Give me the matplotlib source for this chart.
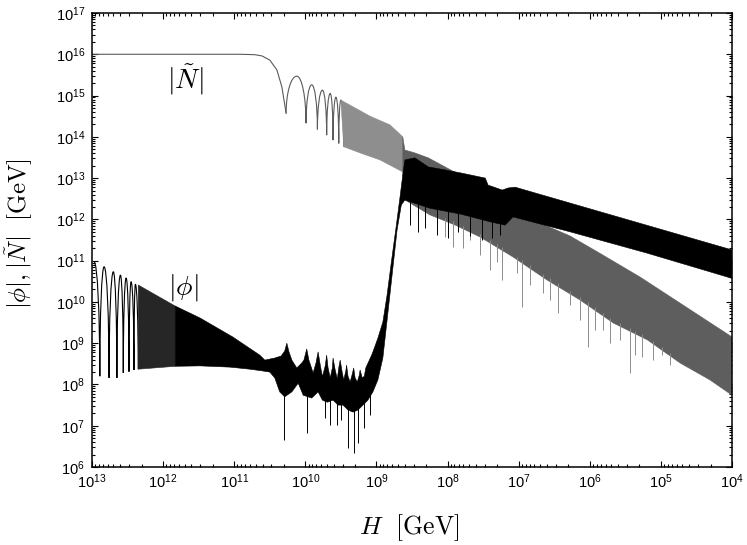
import numpy as np
import matplotlib
matplotlib.use("Agg")
import matplotlib.pyplot as plt
from matplotlib.path import Path
from matplotlib.patches import PathPatch
from matplotlib.ticker import LogLocator, FuncFormatter, NullFormatter

plt.rcParams['font.family'] = ['Liberation Sans', 'DejaVu Sans']
plt.rcParams['mathtext.fontset'] = 'cm'

# ---------------- data (log10 of H and of the field) ----------------
# |N~| : plateau and roll-off
n_roll_logH = [13.0, 10.92, 10.71, 10.61, 10.50, 10.40, 10.33, 10.30, 10.27]
n_roll_logY = [16.0, 16.0, 15.99, 15.96, 15.86, 15.62, 15.21, 14.89, 14.57]
# resolved oscillations of |N~|
n_dip_logH = [10.27, 9.99, 9.83, 9.70, 9.61, 9.53, 9.46]
n_dip_logY = [14.57, 14.33, 14.18, 14.04, 13.92, 13.84, 13.76]
n_peak_logH = [10.12, 9.91, 9.76, 9.65, 9.57, 9.50]
n_peak_logY = [15.47, 15.26, 15.13, 15.05, 14.96, 14.89]
# dense oscillations of |N~| (envelopes)
n_dense_up_logH = [9.50, 9.09, 8.81, 8.63]
n_dense_up_logY = [14.89, 14.50, 14.29, 14.00]
n_dense_lo_logH = [9.46, 9.23, 8.95, 8.63]
n_dense_lo_logY = [13.76, 13.61, 13.44, 13.15]
n_band_up_logH = [8.63, 8.60, 8.46, 8.27, 7.82, 7.33, 7.19, 6.74, 6.28, 5.86, 5.29, 4.0]
n_band_up_logY = [14.00, 13.68, 13.61, 13.49, 13.07, 12.59, 12.15, 11.94, 11.60, 11.18, 10.60, 9.15]
n_band_lo_logH = [8.63, 8.60, 8.25, 7.89, 7.54, 7.08, 6.60, 6.14, 5.67, 5.19, 4.73, 4.31, 4.0]
n_band_lo_logY = [13.15, 12.47, 12.11, 11.86, 11.57, 11.09, 10.53, 10.05, 9.49, 9.08, 8.52, 8.11, 7.74]
# deep minima of |N~| sticking out of the band
n_spike_logH = [8.04, 7.92, 7.78, 7.68, 7.54, 7.40, 7.30, 7.23, 7.02, 6.95, 6.84, 6.66, 6.56, 6.45,
                6.28, 6.14, 6.02, 5.93, 5.81, 5.71, 5.57, 5.43, 5.36, 5.26, 5.11, 4.98, 4.87]
n_spike_logY = [11.57, 11.33, 11.31, 11.50, 11.14, 10.77, 10.97, 10.53, 10.70, 9.88, 10.41, 10.22, 10.05, 9.73,
                9.92, 9.56, 8.91, 9.32, 9.32, 9.00, 9.08, 8.28, 8.71, 8.66, 8.59, 8.71, 8.47]

# |phi| : first resolved oscillations
phi_start_logH = [12.97]
phi_start_logY = [10.97]
phi_dip_logH = [12.89, 12.76, 12.65, 12.56, 12.48, 12.41, 12.35]
phi_dip_logY = [8.20, 8.16, 8.16, 8.28, 8.31, 8.35, 8.37]
phi_peak_logH = [12.83, 12.70, 12.60, 12.52, 12.45, 12.39]
phi_peak_logY = [10.85, 10.73, 10.65, 10.58, 10.49, 10.43]
# |phi| : partly resolved oscillations (envelope)
phi_mid_up_logH = [12.35, 11.83]
phi_mid_up_logY = [10.41, 9.90]
phi_mid_lo_logH = [12.35, 11.83]
phi_mid_lo_logY = [8.37, 8.44]
# |phi| : envelope of the dense oscillations
phi_up_logH = [11.83, 11.48, 11.02, 10.64, 10.57, 10.43, 10.34, 10.29, 10.26, 10.23, 10.19, 10.12,
               10.05, 10.02, 9.98, 9.95, 9.89, 9.85, 9.82, 9.79, 9.76, 9.72, 9.70, 9.68, 9.65,
               9.62, 9.61, 9.58, 9.55, 9.53, 9.51, 9.48, 9.46, 9.43, 9.42, 9.40, 9.37,
               9.34, 9.32, 9.30, 9.27, 9.24, 9.23, 9.20, 9.17,
               9.15, 9.06, 8.98, 8.91, 8.85, 8.79, 8.72, 8.67, 8.63, 8.60, 8.46, 8.27, 8.04, 7.80,
               7.47, 7.43, 7.23, 7.15, 7.05, 4.0]
phi_up_logY = [9.90, 9.61, 9.15, 8.71, 8.59, 8.64, 8.69, 8.81, 9.00, 8.79, 8.59, 8.40,
               8.52, 8.59, 8.86, 8.59, 8.28, 8.52, 8.79, 8.47, 8.19, 8.45, 8.71, 8.40, 8.16,
               8.40, 8.64, 8.35, 8.13, 8.40, 8.59, 8.28, 8.11, 8.33, 8.47, 8.20, 8.06,
               8.25, 8.40, 8.16, 8.06, 8.23, 8.35, 8.16, 8.20,
               8.40, 8.74, 9.12, 9.51, 10.17, 10.97, 11.86, 12.52, 13.07, 13.44, 13.49, 13.27, 13.20, 13.12,
               13.00, 12.83, 12.71, 12.76, 12.78, 11.26]
phi_lo_logH = [11.83, 11.48, 11.06, 10.78, 10.61, 10.50, 10.43, 10.36, 10.29, 10.19, 10.10, 10.03,
               9.91, 9.82, 9.76, 9.69, 9.61, 9.54, 9.47, 9.40, 9.33, 9.26, 9.19, 9.12, 9.05, 8.98,
               8.91, 8.85, 8.78, 8.71, 8.65, 8.60, 8.25, 7.82, 7.40, 7.19, 7.08, 6.28, 5.19, 4.0]
phi_lo_logY = [8.44, 8.45, 8.42, 8.37, 8.33, 8.30, 8.16, 7.82, 7.70, 7.82, 8.03, 7.74,
               7.67, 7.82, 7.62, 7.57, 7.62, 7.50, 7.50, 7.38, 7.33, 7.38, 7.50, 7.62, 7.82, 8.11,
               8.64, 9.56, 10.65, 11.74, 12.35, 12.47, 12.27, 12.13, 11.94, 11.86, 12.06, 11.70, 11.18, 10.57]
# deep minima of |phi| sticking out of the band
phi_spike_logH = [10.30, 9.97, 9.72, 9.66, 9.56, 9.50, 9.40, 9.32, 9.26, 9.18, 9.09,
                  8.53, 8.41, 8.32, 8.15, 7.99, 7.85, 7.68, 7.51, 7.37, 7.26]
phi_spike_logY = [6.65, 6.82, 7.19, 7.02, 7.02, 7.14, 6.46, 6.34, 6.58, 6.94, 7.26,
                  11.86, 11.69, 11.79, 11.62, 11.55, 11.69, 11.60, 11.50, 11.55, 11.62]

# ---------------- styles ----------------
N_LINE = '#5a5a5a'
N_LIGHT = '#8e8e8e'
N_BAND = '#5e5e5e'
N_SPIKE = '#8c8c8c'
PHI = '#000000'
PHI_MID = '#262626'


def arch_path(seq_h, seq_y, k=0.55):
    verts = [(10 ** seq_h[0], 10 ** seq_y[0])]
    codes = [Path.MOVETO]
    for i in range(len(seq_h) - 1):
        h0, y0 = seq_h[i], seq_y[i]
        h1, y1 = seq_h[i + 1], seq_y[i + 1]
        if y0 > y1:   # maximum -> minimum
            c1 = (h0 + k * (h1 - h0), y0)
            c2 = (h1, y1 + k * (y0 - y1))
        else:         # minimum -> maximum
            c1 = (h0, y0 + k * (y1 - y0))
            c2 = (h1 + k * (h0 - h1), y1)
        for a, b in (c1, c2, (h1, y1)):
            verts.append((10 ** a, 10 ** b))
            codes.append(Path.CURVE4)
    return Path(verts, codes)


def interleave(d, p):
    out = []
    for i in range(len(d)):
        out.append(d[i])
        if i < len(p):
            out.append(p[i])
    return out


def band(ax, up_h, up_y, lo_h, lo_y, color, z):
    xs = 10 ** np.r_[up_h, lo_h[::-1]]
    ys = 10 ** np.r_[up_y, lo_y[::-1]]
    ax.fill(xs, ys, facecolor=color, edgecolor=color, lw=0.4, zorder=z)


def spikes(ax, sh, sy, lo_h, lo_y, color, z, lw=0.7):
    sh = np.asarray(sh)
    base = np.interp(-sh, -np.asarray(lo_h), np.asarray(lo_y)) + 0.08
    ax.vlines(10 ** sh, 10 ** np.asarray(sy), 10 ** base, colors=color, lw=lw, zorder=z)


fig = plt.figure(figsize=(7.47, 5.45), dpi=100)
ax = fig.add_axes([92 / 747, 1 - 467 / 545, 640 / 747, 454 / 545])
ax.set_xscale('log')
ax.set_yscale('log')
ax.set_xlim(1e13, 1e4)
ax.set_ylim(1e6, 1e17)

# |N~|
ax.plot(10 ** np.array(n_roll_logH), 10 ** np.array(n_roll_logY), color=N_LINE, lw=0.8, zorder=2)
ax.add_patch(PathPatch(arch_path(interleave(n_dip_logH, n_peak_logH), interleave(n_dip_logY, n_peak_logY)),
                       fill=False, edgecolor=N_LINE, lw=0.8, zorder=2))
band(ax, n_dense_up_logH, n_dense_up_logY, n_dense_lo_logH, n_dense_lo_logY, N_LIGHT, 2)
band(ax, n_band_up_logH, n_band_up_logY, n_band_lo_logH, n_band_lo_logY, N_BAND, 2)
spikes(ax, n_spike_logH, n_spike_logY, n_band_lo_logH, n_band_lo_logY, N_SPIKE, 2)

# |phi|
ax.add_patch(PathPatch(arch_path(phi_start_logH + interleave(phi_dip_logH, phi_peak_logH),
                                 phi_start_logY + interleave(phi_dip_logY, phi_peak_logY)),
                       fill=False, edgecolor=PHI, lw=0.8, zorder=3))
band(ax, phi_mid_up_logH, phi_mid_up_logY, phi_mid_lo_logH, phi_mid_lo_logY, PHI_MID, 3)
band(ax, phi_up_logH, phi_up_logY, phi_lo_logH, phi_lo_logY, PHI, 3)
spikes(ax, phi_spike_logH, phi_spike_logY, phi_lo_logH, phi_lo_logY, PHI, 3)

# curve labels
ax.text(10 ** 11.685, 10 ** 15.38, r'$|\tilde{N}|$', fontsize=20, ha='center', va='center')
ax.text(10 ** 11.71, 10 ** 10.36, r'$|\phi|$', fontsize=20, ha='center', va='center')

# axes
ax.xaxis.set_major_locator(LogLocator(base=10, numticks=30))
ax.yaxis.set_major_locator(LogLocator(base=10, numticks=30))
ax.xaxis.set_minor_locator(LogLocator(base=10, subs=np.arange(2, 10), numticks=100))
ax.yaxis.set_minor_locator(LogLocator(base=10, subs=np.arange(2, 10), numticks=100))
fmt = FuncFormatter(lambda v, pos: r'$\mathregular{10^{%d}}$' % int(round(np.log10(v))))
ax.xaxis.set_major_formatter(fmt)
ax.yaxis.set_major_formatter(fmt)
ax.xaxis.set_minor_formatter(NullFormatter())
ax.yaxis.set_minor_formatter(NullFormatter())
ax.tick_params(which='both', direction='in', top=True, right=True, width=0.8, colors='black')
ax.tick_params(which='major', length=4.5, labelsize=10.5)
ax.tick_params(which='minor', length=2.2)
ax.tick_params(axis='x', which='major', pad=4)
ax.tick_params(axis='y', which='major', pad=5)
for s in ax.spines.values():
    s.set_linewidth(1.1)

ax.set_xlabel(r'$H\ \ [\mathrm{GeV}]$', fontsize=18.5)
ax.set_ylabel(r'$|\phi|, |\tilde{N}|\ \ [\mathrm{GeV}]$', fontsize=18)
ax.xaxis.set_label_coords(0.495, -0.100)
ax.yaxis.set_label_coords(-0.089, 0.515)

fig.savefig('out.png', dpi=100)
